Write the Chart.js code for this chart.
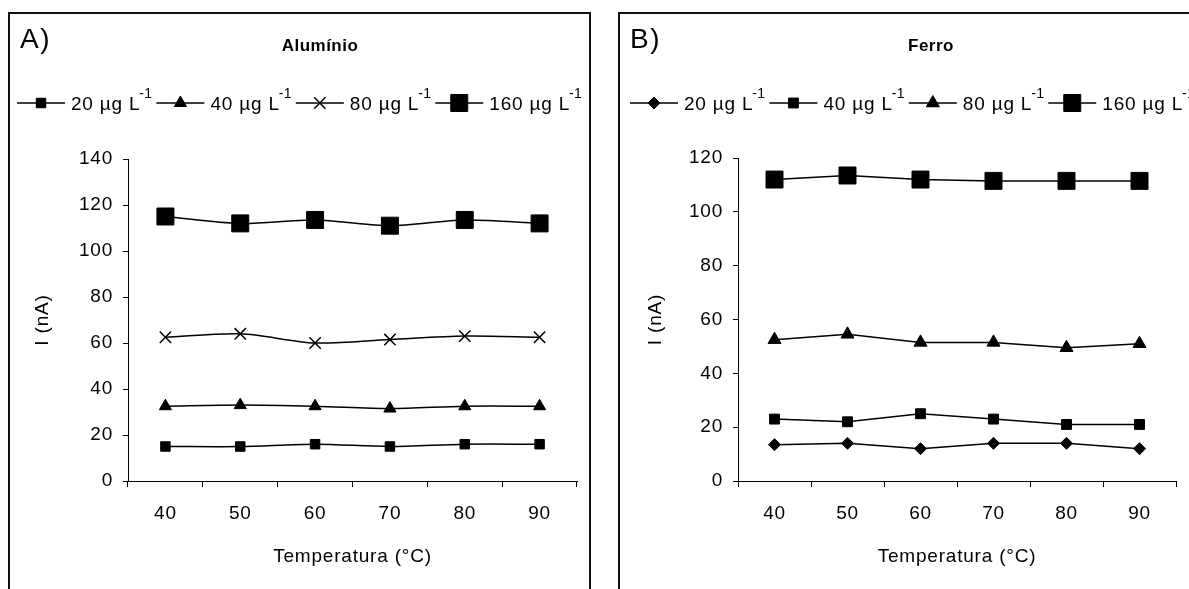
<!DOCTYPE html>
<html>
<head>
<meta charset="utf-8">
<script src="https://cdn.jsdelivr.net/npm/chart.js@4.4.1/dist/chart.umd.min.js"></script>
<style>
  body { margin: 0; width: 1189px; height: 589px; overflow: hidden; position: relative; background: #fff; font-family: "Liberation Sans", Arial, sans-serif; }
  .painel { position: absolute; border: 2px solid #111; box-sizing: border-box; }
  .letra { position: absolute; font-size: 28px; letter-spacing: 1.5px; line-height: 1; }
  .nome { position: absolute; font-size: 17px; font-weight: bold; letter-spacing: 0.5px; transform: translateX(-50%); line-height: 1; }
  canvas { position: absolute; top: 0; }
</style>
</head>
<body>
<div class="painel" style="left:8px;top:12px;width:583px;height:640px"></div>
<div class="painel" style="left:618px;top:12px;width:640px;height:640px"></div>
<canvas id="graficoA" width="600" height="589" style="left:0"></canvas>
<canvas id="graficoB" width="589" height="589" style="left:600px"></canvas>
<div class="letra" style="left:20px;top:25px">A)</div>
<div class="nome" style="left:320px;top:37px">Alumínio</div>
<div class="letra" style="left:630px;top:25px">B)</div>
<div class="nome" style="left:931px;top:37px">Ferro</div>

<script>
// temperaturas (eixo x) e concentrações (legenda)
const temperaturas = ['40', '50', '60', '70', '80', '90'];
const concentracoes = ['20 µg L', '40 µg L', '80 µg L', '160 µg L'];

// A) Alumínio, corrente em nA
const al20 = [15, 15, 16, 15, 16, 16];
const al40 = [32.5, 33, 32.5, 31.5, 32.5, 32.5];
const al80 = [62.5, 64, 60, 61.5, 63, 62.5];
const al160 = [115, 112, 113.5, 111, 113.5, 112];

// B) Ferro, corrente em nA
const fe20 = [13.5, 14, 12, 14, 14, 12];
const fe40 = [23, 22, 25, 23, 21, 21];
const fe80 = [52.5, 54.5, 51.5, 51.5, 49.5, 51];
const fe160 = [112, 113.5, 112, 111.5, 111.5, 111.5];

Chart.defaults.font.family = '"Liberation Sans", Arial, sans-serif';
Chart.defaults.font.size = 19;
Chart.defaults.color = '#000';

const ESPACO = '0.8px';

// texto um pouco mais largo, como no original
const espacamento = {
  id: 'espacamento',
  beforeUpdate(chart) { chart.ctx.letterSpacing = ESPACO; },
  beforeDraw(chart) { chart.ctx.letterSpacing = ESPACO; }
};

// legenda em linha: traço + marcador + texto com expoente -1
const legendaLinha = {
  id: 'legendaLinha',
  afterDraw(chart, args, opts) {
    const ctx = chart.ctx;
    ctx.save();
    ctx.letterSpacing = ESPACO;
    let x = opts.x;
    const y = opts.y;
    chart.data.datasets.forEach((ds) => {
      ctx.strokeStyle = '#000';
      ctx.fillStyle = '#000';
      ctx.lineWidth = 1.5;
      ctx.beginPath();
      ctx.moveTo(x, y);
      ctx.lineTo(x + 48, y);
      ctx.stroke();
      ctx.lineWidth = ds.pointBorderWidth;
      Chart.helpers.drawPoint(ctx, {
        pointStyle: ds.pointStyle, radius: ds.pointRadius,
        borderWidth: ds.pointBorderWidth, rotation: 0
      }, x + 24, y);
      x += 54;
      ctx.font = '19px "Liberation Sans", Arial, sans-serif';
      ctx.textBaseline = 'alphabetic';
      ctx.textAlign = 'left';
      ctx.fillText(ds.label, x, y + 7);
      x += ctx.measureText(ds.label).width;
      ctx.font = '14px "Liberation Sans", Arial, sans-serif';
      ctx.letterSpacing = '0.3px';
      ctx.fillText('-1', x - 1, y - 5);
      x += ctx.measureText('-1').width + 3;
      ctx.letterSpacing = ESPACO;
    });
    ctx.restore();
  }
};

function serie(rotulo, valores, estilo, raio, suave) {
  return {
    label: rotulo,
    data: valores,
    borderColor: '#000',
    backgroundColor: '#000',
    borderWidth: 1.5,
    pointStyle: estilo,
    pointRadius: raio,
    pointBorderWidth: estilo === 'crossRot' ? 1.5 : 1,
    pointBackgroundColor: '#000',
    pointBorderColor: '#000',
    tension: suave ? 0.3 : 0
  };
}

function montarGrafico(id, datasets, yMax, geo) {
  return new Chart(document.getElementById(id), {
    type: 'line',
    data: { labels: temperaturas, datasets: datasets },
    options: {
      responsive: false,
      animation: false,
      layout: { padding: { left: 0, top: geo.top, right: geo.right, bottom: 8 } },
      plugins: {
        legend: { display: false },
        tooltip: { enabled: false },
        legendaLinha: { x: geo.legendaX, y: 103 }
      },
      scales: {
        x: {
          offset: true,
          grid: { offset: true, drawOnChartArea: false, tickLength: 6, color: '#000' },
          border: { color: '#000', width: 1 },
          ticks: { padding: 15, maxRotation: 0, autoSkip: false },
          title: { display: true, text: 'Temperatura (°C)', padding: { top: 0, bottom: 13 } },
          afterFit: (s) => { s.height = 100; }
        },
        y: {
          min: 0,
          max: yMax,
          ticks: { stepSize: 20, padding: 10 },
          grid: { drawOnChartArea: false, tickLength: 5, color: '#000' },
          border: { color: '#000', width: 1 },
          title: { display: true, text: 'I (nA)', padding: { top: geo.tituloY, bottom: 0 } },
          afterFit: (s) => { s.width = geo.left; }
        }
      }
    },
    plugins: [espacamento, legendaLinha]
  });
}

montarGrafico('graficoA', [
  serie(concentracoes[0], al20, 'rect', 6.7, true),
  serie(concentracoes[1], al40, 'triangle', 7, true),
  serie(concentracoes[2], al80, 'crossRot', 8, true),
  serie(concentracoes[3], al160, 'rect', 12, true)
], 140, { left: 128, top: 159, right: 23, tituloY: 31, legendaX: 17 });

montarGrafico('graficoB', [
  serie(concentracoes[0], fe20, 'rectRot', 6, false),
  serie(concentracoes[1], fe40, 'rect', 7, false),
  serie(concentracoes[2], fe80, 'triangle', 7.5, false),
  serie(concentracoes[3], fe160, 'rect', 12, false)
], 120, { left: 138, top: 158, right: 7, tituloY: 44, legendaX: 30 });
</script>
</body>
</html>
